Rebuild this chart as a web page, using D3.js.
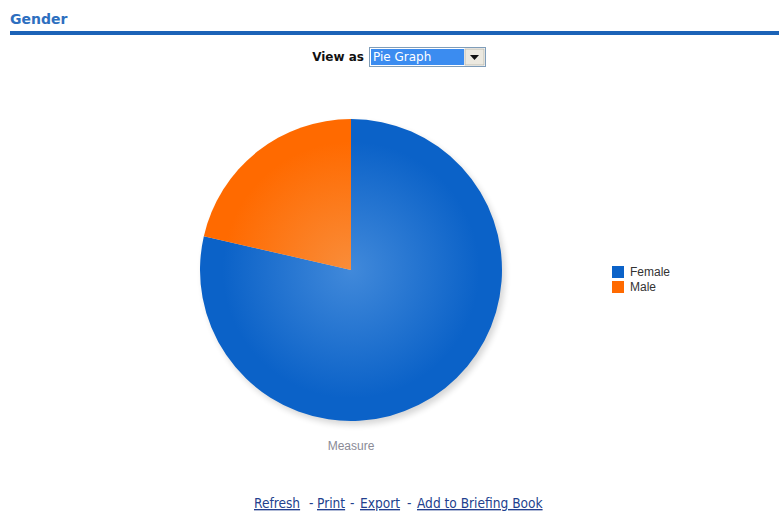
<!DOCTYPE html>
<html><head><meta charset="utf-8">
<script src="https://cdn.jsdelivr.net/npm/d3@7"></script>
<style>body{margin:0;background:#fff;} svg{display:block;}</style>
</head><body>
<script>
const categories = ["Female", "Male"];
const values = [78.6, 21.4];
const colors = ["#0b62c8", "#ff6a00"];
const lightColors = ["#4189da", "#f98d3a"];
const title = "Gender";
const axisTitle = "Measure";
const links = ["Refresh", "Print", "Export", "Add to Briefing Book"];

const W = 779, H = 513;
const svg = d3.select("body").append("svg").attr("width", W).attr("height", H);
const defs = svg.append("defs");
const cx = 351, cy = 270, R = 151;

// header
svg.append("text").attr("x", 10).attr("y", 24).text(title)
  .attr("font-family", "DejaVu Sans, Verdana, sans-serif").attr("font-weight", "bold")
  .attr("font-size", 14).attr("fill", "#2d6fbf");
svg.append("rect").attr("x", 10).attr("y", 31).attr("width", W - 10).attr("height", 4).attr("fill", "#1c63b7");

// view as
svg.append("text").attr("x", 364).attr("y", 61).attr("text-anchor", "end").text("View as")
  .attr("font-family", "DejaVu Sans, Verdana, sans-serif").attr("font-weight", "bold")
  .attr("font-size", 12).attr("fill", "#111");
svg.append("rect").attr("x", 369.5).attr("y", 47.5).attr("width", 116).attr("height", 19).attr("fill", "#fff").attr("stroke", "#7f9db9");
svg.append("rect").attr("x", 371).attr("y", 49).attr("width", 93).attr("height", 16).attr("fill", "#3b8cf0");
svg.append("text").attr("x", 373).attr("y", 61).text("Pie Graph")
  .attr("font-family", "DejaVu Sans, Verdana, sans-serif").attr("font-size", 12).attr("fill", "#fff");
svg.append("rect").attr("x", 465).attr("y", 49).attr("width", 19).attr("height", 16).attr("fill", "#ece9e0").attr("stroke", "#b9b6aa").attr("stroke-width", 0.8);
svg.append("path").attr("d", "M470,55 L479,55 L474.5,60 Z").attr("fill", "#111");

// pie
const pie = d3.pie().sort(null).value(d => d)(values);
const arc = d3.arc().innerRadius(0).outerRadius(R);
const shadow = defs.append("filter").attr("id", "sh").attr("x", "-20%").attr("y", "-20%").attr("width", "140%").attr("height", "140%");
shadow.append("feGaussianBlur").attr("stdDeviation", 3);
svg.append("circle").attr("cx", cx + 3).attr("cy", cy + 4).attr("r", R).attr("fill", "#000").attr("opacity", 0.16).attr("filter", "url(#sh)");

categories.forEach((c, i) => {
  const g = defs.append("radialGradient").attr("id", "g" + i).attr("gradientUnits", "userSpaceOnUse")
    .attr("cx", 0).attr("cy", 0).attr("r", R).attr("fx", 0).attr("fy", 0);
  g.append("stop").attr("offset", "0%").attr("stop-color", lightColors[i]);
  g.append("stop").attr("offset", "85%").attr("stop-color", colors[i]);
  g.append("stop").attr("offset", "100%").attr("stop-color", colors[i]);
});
const pg = svg.append("g").attr("transform", `translate(${cx},${cy})`);
pg.selectAll("path").data(pie).join("path").attr("d", arc).attr("fill", (d, i) => `url(#g${i})`);

svg.append("text").attr("x", cx).attr("y", 450).attr("text-anchor", "middle").text(axisTitle)
  .attr("font-family", "Liberation Sans, Arial, sans-serif").attr("font-size", 12).attr("fill", "#8a8a96");

// legend
const lg = svg.append("g");
categories.forEach((c, i) => {
  lg.append("rect").attr("x", 612).attr("y", 266 + i * 15).attr("width", 12).attr("height", 12).attr("fill", colors[i]);
  lg.append("text").attr("x", 630).attr("y", 276 + i * 15).text(c)
    .attr("font-family", "Liberation Sans, Arial, sans-serif").attr("font-size", 12).attr("fill", "#333");
});

// links
const lx = [254, 317, 360, 417];
const sep = [[309, "-"], [350, "-"], [407, "-"]];
const font = "DejaVu Sans Condensed, DejaVu Sans, Verdana, sans-serif";
links.forEach((t, i) => {
  svg.append("text").attr("x", lx[i]).attr("y", 508).text(t).attr("font-family", font)
    .attr("font-size", 13.6).attr("fill", "#223f8e").attr("text-decoration", "underline");
});
sep.forEach(([x, t]) => svg.append("text").attr("x", x).attr("y", 508).text(t)
  .attr("font-family", font).attr("font-size", 13.6).attr("fill", "#223f8e"));
</script>
</body></html>
